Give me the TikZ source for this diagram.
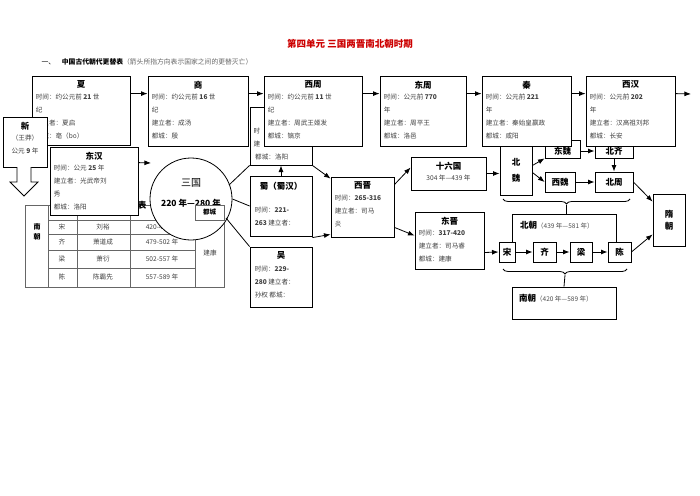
\documentclass[tikz,border=0pt]{standalone}
\usepackage{fontspec}
\setmainfont{Noto Sans CJK SC}
\usetikzlibrary{arrows.meta,calc,decorations.pathreplacing}
\tikzset{>=Latex}
\tikzset{
  box/.style={draw,thick,fill=white,inner sep=0pt},
  ttl/.style={font=\fontsize{8.5}{10}\selectfont\bfseries,inner sep=1pt},
  txt/.style={font=\fontsize{6.6}{13}\selectfont,align=left,inner sep=1pt,text=black!75},
  arr/.style={->,thick},
}
\newcommand{\dynbox}[5]{% name, x1, y1, x2, y2
  \node[box,minimum width={(#4-#2)*1pt},minimum height={(#5-#3)*1pt}] (#1) at ({(#2+#4)/2},{(#3+#5)/2}) {};}
\begin{document}
\begin{tikzpicture}[x=1pt,y=-1pt]
\useasboundingbox (0,0) rectangle (700,495);
% title
\node[font=\fontsize{9.5}{10}\selectfont\bfseries,text=red!80!black] (title) at (350,44) {第四单元\ 三国两晋南北朝时期};
\node[anchor=west,font=\fontsize{6.8}{8}\selectfont] (sub) at (38,62) {一、\quad {\bfseries 中国古代朝代更替表}{\color{black!60}（箭头所指方向表示国家之间的更替灭亡）}};
% table
\draw[black!60] (25,205) rectangle (224,287);
\foreach \xx in {48,77,130,195} \draw[black!60] (\xx,205) -- (\xx,287);
\draw[black!60] (48,220) -- (224,220);
\foreach \yy in {234,250,268} \draw[black!60] (48,\yy) -- (195,\yy);
\node[font=\fontsize{7}{10}\selectfont\bfseries,align=center] (nanchaoT) at (37,232) {南\\朝};
\foreach \a/\b/\c/\yy in {宋/刘裕/420-479 年/227,齐/萧道成/479-502 年/242,梁/萧衍/502-557 年/259,陈/陈霸先/557-589 年/277}{
  \node[txt] at (62,\yy) {\a};
  \node[txt] at (103,\yy) {\b};
  \node[txt] at (162,\yy) {\c};}
\node[txt] (jk) at (210,253) {建康};
\node[ttl] at (142,205) {表};
% top row
\dynbox{xia}{32}{76}{130}{145}
\dynbox{shang}{148}{76}{248}{146}
\dynbox{wei}{250}{107}{312}{165}
\node[txt] at (257,131) {时};
\node[txt] at (257,144) {建};
\node[txt,anchor=west] at (254,157) {都城：洛阳};
\dynbox{xizhou}{264}{76}{362}{146}
\dynbox{dongzhou}{380}{76}{466}{146}
\dynbox{dongwei}{545}{140}{580}{158}
\node[ttl] at ($(dongwei.center)+(0,2)$) {东魏};
\dynbox{beiqi}{595}{140}{633}{158}
\node[ttl] at ($(beiqi.center)+(0,2)$) {北齐};
\dynbox{qin}{482}{76}{571}{146}
\dynbox{xihan}{586}{76}{675}{146}
\foreach \n/\t/\a/\b/\c/\d in {xia/夏/时间：约公元前 \textbf{21} 世/纪/建立者：夏启/都城：亳（bo）,
  shang/商/时间：约公元前 \textbf{16} 世/纪/建立者：成汤/都城：殷,
  xizhou/西周/时间：约公元前 \textbf{11} 世/纪/建立者：周武王姬发/都城：镐京,
  dongzhou/东周/时间：公元前 \textbf{770}/年/建立者：周平王/都城：洛邑,
  qin/秦/时间：公元前 \textbf{221}/年/建立者：秦始皇嬴政/都城：咸阳,
  xihan/西汉/时间：公元前 \textbf{202}/年/建立者：汉高祖刘邦/都城：长安}{
  \node[ttl,anchor=north] at ($(\n.north)+(0,4)$) {\t};
  \node[txt,anchor=north west] at ($(\n.north west)+(3,17)$) {\a\\\b\\\c\\\d};}
\draw[arr] ($(xia.north east)+(0,18)$) -- ($(shang.north west)+(0,18)$);
\draw[arr] ($(shang.north east)+(0,18)$) -- ($(xizhou.north west)+(0,18)$);
\draw[arr] ($(xizhou.north east)+(0,18)$) -- ($(dongzhou.north west)+(0,18)$);
\draw[arr] ($(dongzhou.north east)+(0,18)$) -- ($(qin.north west)+(0,18)$);
\draw[arr] ($(qin.north east)+(0,18)$) -- ($(xihan.north west)+(0,18)$);
\coordinate (xihanend) at (691,94);
\draw[arr] ($(xihan.north east)+(0,18)$) -- (xihanend);
% xin
\dynbox{xin}{3}{117}{47}{167}
\node[ttl,anchor=north] at ($(xin.north)+(0,4)$) {新};
\node[txt,align=center,anchor=north] at ($(xin.north)+(0,17)$) {（王莽）\\公元 \textbf{9} 年};
\draw[thick,fill=white] (17,167) -- (17,182) -- (10,182) -- (24,196) -- (38,182) -- (31,182) -- (31,167);
% donghan
\dynbox{donghan}{50}{147}{138}{215}
\node[ttl,anchor=north] at ($(donghan.north)+(0,4)$) {东汉};
\node[txt,anchor=north west] at ($(donghan.north west)+(3,17)$) {时间：公元 \textbf{25} 年\\建立者：光武帝刘\\秀\\都城：洛阳};
\coordinate (donghanend) at (151,163);
\draw[arr] ($(donghan.north east)+(0,16)$) -- (donghanend);
% sanguo
\node[draw,thick,fill=white,circle,minimum size=82pt] (sanguo) at (191,199) {};
\node[ttl,font=\fontsize{10}{12}\selectfont] at (191,183) {三国};
\node[ttl] at (191,203) {220 年—280 年};
\draw[black!60,fill=white] (195,205) rectangle (224,220);
\node[ttl,font=\fontsize{6.5}{8}\selectfont\bfseries] (ducheng) at (209.5,212.5) {都城};
% shu, wu
\dynbox{shu}{250}{176}{312}{236}
\node[ttl,anchor=north] at ($(shu.north)+(0,5)$) {蜀（蜀汉）};
\node[txt,anchor=north west] at ($(shu.north west)+(4,30)$) {时间：\textbf{221-}\\\textbf{263} 建立者：};
\dynbox{wu}{250}{247}{312}{307}
\node[ttl,anchor=north] at ($(wu.north)+(0,4)$) {吴};
\node[txt,anchor=north west] at ($(wu.north west)+(4,18)$) {时间：\textbf{229-}\\\textbf{280} 建立者：\\孙权 都城：};
\draw[thick] (229,185) -- (wei.south west);
\draw[thick] (sanguo.east) -- (shu.west);
\draw[thick] (226,218) -- (wu.north west);
\draw[arr] (shu.north) -- (wei.south-|shu.north);
% xijin
\dynbox{xijin}{331}{177}{394}{237}
\node[ttl,anchor=north] at ($(xijin.north)+(0,4)$) {西晋};
\node[txt,anchor=north west] at ($(xijin.north west)+(3,17)$) {时间：\textbf{265-316}\\建立者：司马\\炎};
\draw[arr] (wei.south east) -- ($(xijin.north west)+(0,2)$);
\draw[arr] ($(wu.north east)+(0,-9)$) -- ($(xijin.south west)+(0,-3)$);
% shiliuguo, dongjin
\dynbox{sll}{411}{157}{486}{190}
\node[ttl,anchor=north] at ($(sll.north)+(0,4)$) {十六国};
\node[txt,anchor=north] at ($(sll.north)+(0,17)$) {304 年—439 年};
\dynbox{dongjin}{415}{212}{484}{269}
\node[ttl,anchor=north] at ($(dongjin.north)+(0,4)$) {东晋};
\node[txt,anchor=north west] at ($(dongjin.north west)+(3,17)$) {时间：\textbf{317-420}\\建立者：司马睿\\都城：建康};
\draw[arr] ($(xijin.north east)+(0,8)$) -- ($(sll.west)+(0,-6)$);
\draw[arr] ($(xijin.south east)+(0,-10)$) -- ($(dongjin.north west)+(0,24)$);
% north
\dynbox{beiwei}{500}{146}{532}{195}
\node[ttl,align=center] at (beiwei.center) {北\\[6pt]魏};
\draw[arr] (sll.east) -- (beiwei.west|-sll.east);
\dynbox{xiwei}{545}{172}{575}{192}
\node[ttl] at (xiwei.center) {西魏};
\dynbox{beizhou}{595}{172}{633}{192}
\node[ttl] at (beizhou.center) {北周};
\draw[arr] ($(beiwei.east)+(0,-5)$) -- (dongwei.south west);
\draw[arr] ($(beiwei.east)+(0,2)$) -- (xiwei.west);
\draw[arr] ($(dongwei.east)+(0,2)$) -- ($(beiqi.west)+(0,2)$);
\draw[arr] (beiqi.south) -- (beizhou.north);
\draw[arr] (xiwei.east) -- (beizhou.west);
\dynbox{sui}{653}{194}{685}{246}
\node[ttl,align=center] at (sui.center) {隋\\[2pt]朝};
\draw[arr] (beizhou.east) -- ($(sui.north west)+(0,8)$);
% beichao
\draw[thick,decorate,decoration={brace,mirror,amplitude=5pt}] (503,199) -- (630,199);
\coordinate (bctop) at (566,214);
\draw[thick] (566,205) -- (bctop);
\draw[thick,fill=white] (512,242) -- (512,214) -- (616,214) -- (616,242);
\node[ttl,anchor=west] (beichao) at (519,225) {北朝{\mdseries\fontsize{6.5}{8}\selectfont\color{black!70}（439 年—581 年）}};
% nan row
\dynbox{song}{499}{242}{515}{262}
\dynbox{qi}{533}{242}{556}{262}
\dynbox{liang}{570}{242}{592}{262}
\dynbox{chen}{608}{242}{631}{262}
\foreach \n/\t in {song/宋,qi/齐,liang/梁,chen/陈} \node[ttl] at (\n.center) {\t};
\draw[arr] ($(dongjin.east)+(0,12)$) -- (song.west);
\draw[arr] (song.east) -- (qi.west);
\draw[arr] (qi.east) -- (liang.west);
\draw[arr] (liang.east) -- (chen.west);
\draw[arr] (chen.east) -- ($(sui.south west)+(0,-12)$);
\draw[thick,decorate,decoration={brace,mirror,amplitude=5pt}] (503,269) -- (627,269);
\dynbox{nanchao}{512}{287}{616}{319}
\draw[thick] (565,275) -- (nanchao.north);
\node[ttl,anchor=west] at (518,298) {南朝{\mdseries\fontsize{6.5}{8}\selectfont\color{black!70}（420 年—589 年）}};
\end{tikzpicture}
\end{document}
